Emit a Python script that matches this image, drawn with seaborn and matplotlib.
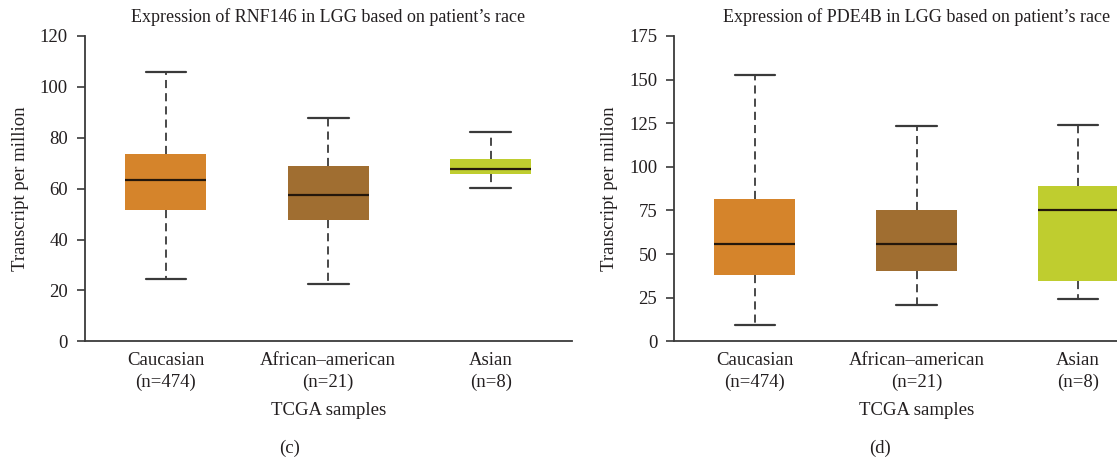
import matplotlib
matplotlib.use("Agg")
import matplotlib.pyplot as plt
import seaborn as sns
import pandas as pd

# --- dados (min, Q1, mediana, Q3, max) ---
races = ["Caucasian", "African\u2013american", "Asian"]
counts = [474, 21, 8]

rnf146_caucasian = [24.6, 51.7, 63.4, 73.5, 105.7]
rnf146_african = [22.5, 47.8, 57.6, 68.9, 87.7]
rnf146_asian = [60.2, 65.6, 67.8, 71.5, 82.1]

pde4b_caucasian = [9.5, 38.2, 55.9, 81.6, 152.5]
pde4b_african = [20.6, 40.5, 55.9, 75.3, 123.4]
pde4b_asian = [24.2, 34.7, 75.3, 88.8, 124.2]

rnf146_ticks = [0, 20, 40, 60, 80, 100, 120]
pde4b_ticks = [0, 25, 50, 75, 100, 125, 150, 175]

colors = ["#D5842B", "#A06E31", "#BFCD2F"]
TXT = "#231F20"
LINE = "#3a3a3a"


def long_df(groups):
    rows = []
    for race, vals in zip(races, groups):
        for v in vals:
            rows.append({"race": race, "tpm": v})
    return pd.DataFrame(rows)


sns.set_style("ticks")
plt.rcParams["font.family"] = ["Liberation Serif", "DejaVu Serif"]

W, H = 1117, 462
fig = plt.figure(figsize=(W / 100, H / 100), dpi=100)

y_top, y_bot = 36, 341.3
panels = [
    (84.6, 572.0, "RNF146", [rnf146_caucasian, rnf146_african, rnf146_asian], rnf146_ticks, "(c)", 290),
    (674.0, 674.0 + 485.1, "PDE4B", [pde4b_caucasian, pde4b_african, pde4b_asian], pde4b_ticks, "(d)", 880),
]

for x0, x1, gene, groups, ticks, tag, tag_x in panels:
    ax = fig.add_axes([x0 / W, (H - y_bot) / H, (x1 - x0) / W, (y_bot - y_top) / H])
    df = long_df(groups)
    sns.boxplot(
        data=df, x="race", y="tpm", hue="race", order=races, hue_order=races,
        palette=dict(zip(races, colors)), saturation=1, legend=False, width=0.5,
        whis=(0, 100), showfliers=False, ax=ax,
        boxprops=dict(edgecolor="none", linewidth=0),
        medianprops=dict(color="#24170b", linewidth=1.6),
        whiskerprops=dict(color=LINE, linewidth=1.3, linestyle=(0, (4.5, 2.8))),
        capprops=dict(color=LINE, linewidth=1.6),
    )
    ax.set_xlim(-0.5, 2.5)
    ax.set_ylim(ticks[0], ticks[-1])
    ax.set_yticks(ticks)
    ax.set_xticks(range(len(races)))
    ax.set_xticklabels([f"{r}\n(n={n})" for r, n in zip(races, counts)], linespacing=1.3)
    ax.tick_params(axis="y", length=6, width=1.2, color=LINE, labelsize=13.5, labelcolor=TXT, pad=6)
    ax.tick_params(axis="x", length=0, labelsize=13.5, labelcolor=TXT, pad=8)
    for s in ["top", "right"]:
        ax.spines[s].set_visible(False)
    for s in ["left", "bottom"]:
        ax.spines[s].set_color(LINE)
        ax.spines[s].set_linewidth(1.3)
    ax.set_xlabel("TCGA samples", fontsize=13.5, color=TXT, labelpad=8)
    ax.set_ylabel("Transcript per million", fontsize=13.5, color=TXT, labelpad=8)
    ax.set_title(f"Expression of {gene} in LGG based on patient\u2019s race",
                 fontsize=13, color=TXT, pad=10)
    fig.text(tag_x / W, 1 - 448 / H, tag, ha="center", va="center", fontsize=13.5, color=TXT)

fig.savefig("out.png", dpi=100)
